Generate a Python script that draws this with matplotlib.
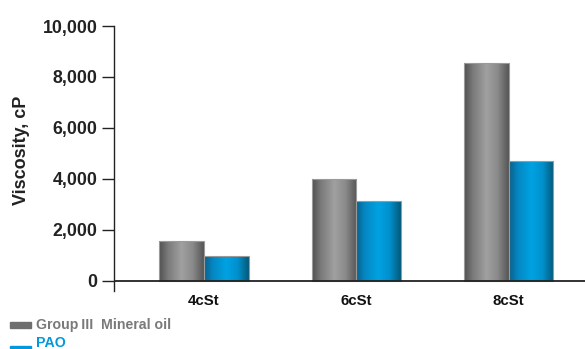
import numpy as np
import matplotlib
matplotlib.use("Agg")
import matplotlib.pyplot as plt
from matplotlib.colors import LinearSegmentedColormap

plt.rcParams['font.family'] = ['Liberation Sans', 'DejaVu Sans']

categories = ["4cSt", "6cSt", "8cSt"]
mineral_oil = [1570, 3990, 8560]
pao = [970, 3140, 4710]
series_names = ["Group\u2009III  Mineral oil", "PAO"]
yticks = [0, 2000, 4000, 6000, 8000, 10000]

gray_cmap = LinearSegmentedColormap.from_list(
    "cyl_gray", [(0.0, "#505050"), (0.2, "#7a7a7a"), (0.5, "#a0a0a0"),
                 (0.75, "#8a8a8a"), (1.0, "#555555")])
blue_cmap = LinearSegmentedColormap.from_list(
    "cyl_blue", [(0.0, "#0a5f88"), (0.2, "#0588c4"), (0.5, "#00a2e2"),
                 (0.75, "#0090cc"), (1.0, "#045879")])

fig = plt.figure(figsize=(5.85, 3.49), dpi=100)
ax = fig.add_axes([0.1954, 0.1665, 0.8046, 0.759])

width = 0.293
x = np.arange(len(categories))
grad = np.linspace(0, 1, 256).reshape(1, -1)


def cyl_bars(xpos, values, cmap):
    bars = ax.bar(xpos, values, width=width, color="none",
                  edgecolor="#9a9a9a", linewidth=0.8, zorder=3)
    for b in bars:
        x0, y0 = b.get_x(), b.get_y()
        w, h = b.get_width(), b.get_height()
        im = ax.imshow(grad, cmap=cmap, aspect="auto",
                       extent=[x0, x0 + w, y0, y0 + h], zorder=2,
                       interpolation="bilinear")
        im.set_clip_path(b)


cyl_bars(x - width / 2, mineral_oil, gray_cmap)
cyl_bars(x + width / 2, pao, blue_cmap)

ax.set_xlim(-0.588, 2.5)
ax.set_ylim(-400, 10000)
ax.axhline(0, color="#222222", linewidth=1.3, zorder=4)

ax.spines["top"].set_visible(False)
ax.spines["right"].set_visible(False)
ax.spines["bottom"].set_visible(False)
ax.spines["left"].set_color("#222222")
ax.spines["left"].set_linewidth(1.0)

ax.set_yticks(yticks)
ax.set_yticklabels([f"{v:,}" for v in yticks], fontsize=12.8,
                   fontweight="bold", color="#222222")
ax.tick_params(axis="y", length=9, width=1.0, color="#222222", pad=3)

ax.set_xticks(x)
ax.set_xticklabels(categories, fontsize=10.8, fontweight="bold",
                   color="#111111")
ax.tick_params(axis="x", length=0, pad=2)

fig.text(0.037, 1 - 150 / 349, "Viscosity, cP", rotation=90, ha="center",
         va="center", fontsize=13, fontweight="bold", color="#222222")

# legend drawn below the axes
fig.patches.append(plt.Rectangle((10 / 585, 1 - 327.5 / 349), 21 / 585,
                                 5.5 / 349, transform=fig.transFigure,
                                 color="#6e6e6e", figure=fig))
fig.text(36 / 585, 1 - 325 / 349, series_names[0], fontsize=10.2,
         fontweight="bold", color="#7a7a7a", va="center")
fig.patches.append(plt.Rectangle((10 / 585, 0.0), 21 / 585,
                                 3 / 349, transform=fig.transFigure,
                                 color="#0099dd", figure=fig))
fig.text(36 / 585, 1 - 343 / 349, series_names[1], fontsize=10.2,
         fontweight="bold", color="#0099dd", va="center")

fig.savefig("out.png", dpi=100)
